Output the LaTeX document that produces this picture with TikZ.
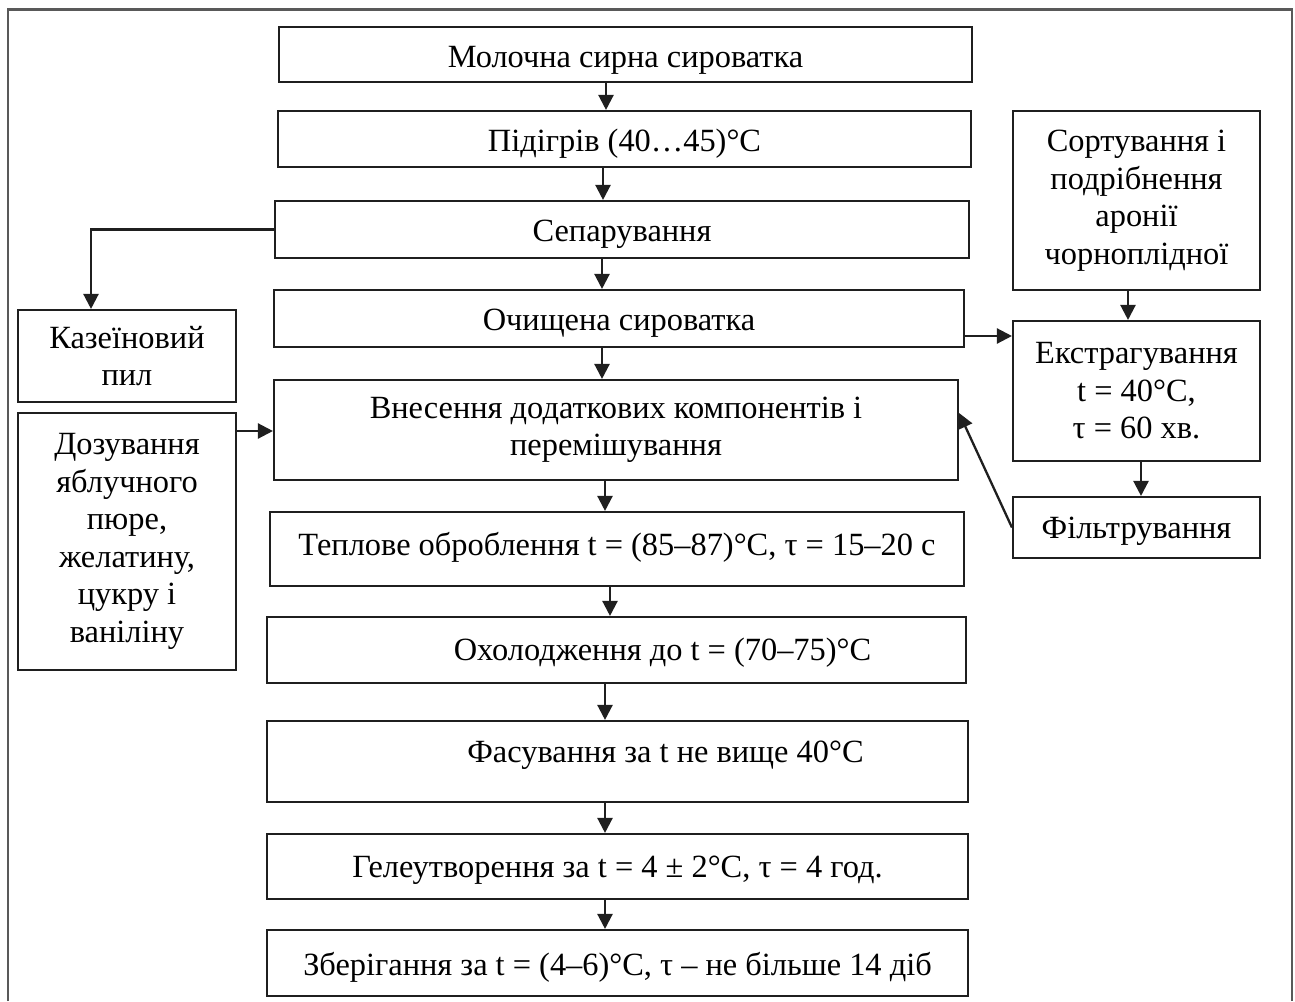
\documentclass[tikz,border=0pt]{standalone}
\usepackage{fontspec}
\setmainfont{Liberation Serif}
\usetikzlibrary{arrows.meta,calc}
\newcommand\fsz{\fontsize{16.2}{18.75}\selectfont}
\begin{document}
\begin{tikzpicture}[x=0.5pt,y=-0.5pt,
  box/.style={draw=black!88, line width=1.05pt, inner sep=0pt, align=center, font=\fsz},
  tb/.style={text height=#1, text depth=0pt},
  arr/.style={draw=black!88, line width=1.15pt, -{Triangle[length=7.5pt,width=7.5pt]}},
  frame/.style={draw=black!65, line width=1.1pt}]
\useasboundingbox (0,0) rectangle (1295,1001);
% outer frame (open at the bottom)
\draw[frame] (8,1001) -- (8,9.5) -- (1292,9.5) -- (1292,1001);

% main column
\node[box, tb=13.2pt, minimum width=346.5pt, minimum height=27.5pt] (m1) at (625.5,54.5) {Молочна сирна сироватка};
\node[box, tb=12.7pt, minimum width=346.5pt, minimum height=28pt] (m2) at (624.5,139) {Підігрів (40…45)°С};
\node[box, tb=12.2pt, minimum width=347pt, minimum height=28.5pt] (m3) at (622,229.5) {Сепарування};
\node[box, tb=12.2pt, minimum width=345pt, minimum height=28.5pt] (m4) at (619,318.5) {Очищена сироватка};
\node[box, minimum width=342pt, minimum height=50pt] (m5) at (616,430) {Внесення додаткових компонентів і\\перемішування};
\node[box, tb=6.7pt, minimum width=347pt, minimum height=37pt] (m6) at (617,549) {Теплове оброблення t = (85–87)°С, τ = 15–20 с};
\node[box, tb=10.7pt, minimum width=349.5pt, minimum height=33pt] (m7) at (616.5,650) {\hspace*{46pt}Охолодження до t = (70–75)°С};
\node[box, tb=1.2pt, minimum width=350.5pt, minimum height=40.5pt] (m8) at (617.5,761.5) {\hspace*{48pt}Фасування за t не вище 40°С};
\node[box, tb=11.2pt, minimum width=350.5pt, minimum height=32.5pt] (m9) at (617.5,866.5) {Гелеутворення за t = 4 ± 2°С, τ = 4 год.};
\node[box, tb=12.7pt, minimum width=350.5pt, minimum height=33pt] (m10) at (617.5,963) {Зберігання за t = (4–6)°С, τ – не більше 14 діб};

% left column
\node[box, minimum width=109pt, minimum height=46pt] (kaz) at (127,356) {Казеїновий\\пил};
\node[box, minimum width=109pt, minimum height=128.5pt] (doz) at (127,541.5) {Дозування\\яблучного\\пюре,\\желатину,\\цукру і\\ваніліну};

% right column
\node[box, minimum width=123.5pt, minimum height=89.5pt] (sort) at (1136.5,200.5) {Сортування і\\подрібнення\\аронії\\чорноплідної};
\node[box, minimum width=123.5pt, minimum height=70pt] (ext) at (1136.5,391) {Екстрагування\\t = 40°С,\\τ = 60 хв.};
\node[box, tb=11pt, minimum width=123.5pt, minimum height=30.5pt] (fil) at (1136.5,527.5) {Фільтрування};

% helper coordinates
\coordinate (c1) at (606,0);
\coordinate (c2) at (603,0);
\coordinate (c3) at (602,0);
\coordinate (c4) at (602,0);
\coordinate (c5) at (605,0);
\coordinate (c6) at (610,0);
\coordinate (c7) at (605,0);
\coordinate (c8) at (605,0);
\coordinate (c9) at (605,0);
\coordinate (kx) at (91,0);
\coordinate (ey) at (0,336);
\coordinate (dy) at (0,431);
\coordinate (sx) at (1128,0);
\coordinate (fx) at (1141,0);
\coordinate (fin) at (958,413);

% connectors
\draw[arr] (m1.south -| c1) -- (m2.north -| c1);
\draw[arr] (m2.south -| c2) -- (m3.north -| c2);
\draw[arr] (m3.south -| c3) -- (m4.north -| c3);
\draw[arr] (m4.south -| c4) -- (m5.north -| c4);
\draw[arr] (m5.south -| c5) -- (m6.north -| c5);
\draw[arr] (m6.south -| c6) -- (m7.north -| c6);
\draw[arr] (m7.south -| c7) -- (m8.north -| c7);
\draw[arr] (m8.south -| c8) -- (m9.north -| c8);
\draw[arr] (m9.south -| c9) -- (m10.north -| c9);
\draw[arr] (m3.west) -| (kaz.north -| kx);
\draw[arr] (doz.east |- dy) -- (m5.west |- dy);
\draw[arr] (m4.east |- ey) -- (ext.west |- ey);
\draw[arr] (sort.south -| sx) -- (ext.north -| sx);
\draw[arr] (ext.south -| fx) -- (fil.north -| fx);
\draw[arr] (fil.west) -- (m5.east |- fin);
\end{tikzpicture}
\end{document}
